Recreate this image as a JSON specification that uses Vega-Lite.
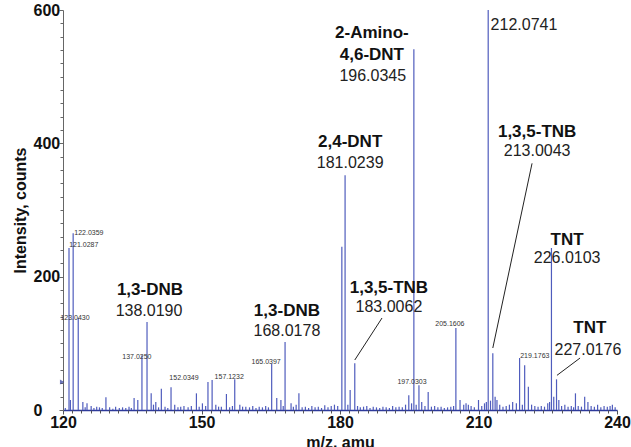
{
  "$schema": "https://vega.github.io/schema/vega-lite/v6.json",
  "width": 554,
  "height": 400,
  "autosize": {"type": "none"},
  "padding": {"left": 63, "top": 10, "right": 14, "bottom": 37},
  "background": "white",
  "config": {"font": "Liberation Sans", "view": {"stroke": null}},
  "resolve": {"axis": {"x": "independent", "y": "independent"}},
  "datasets": {
    "peaks": [
      {"mz": 121.3, "intensity": 243}, {"mz": 122.2, "intensity": 265}, {"mz": 123.3, "intensity": 138},
      {"mz": 121.6, "intensity": 15}, {"mz": 124.3, "intensity": 12}, {"mz": 125.2, "intensity": 10},
      {"mz": 127.3, "intensity": 5}, {"mz": 129.3, "intensity": 19}, {"mz": 135.4, "intensity": 18},
      {"mz": 136.2, "intensity": 15}, {"mz": 137.1, "intensity": 82}, {"mz": 138.2, "intensity": 132},
      {"mz": 139.1, "intensity": 25}, {"mz": 140.1, "intensity": 12}, {"mz": 141.3, "intensity": 32},
      {"mz": 143.4, "intensity": 34}, {"mz": 146.2, "intensity": 6}, {"mz": 148.9, "intensity": 25},
      {"mz": 150.2, "intensity": 10}, {"mz": 151.4, "intensity": 42}, {"mz": 152.3, "intensity": 45},
      {"mz": 154.3, "intensity": 5}, {"mz": 155.4, "intensity": 24}, {"mz": 157.2, "intensity": 46},
      {"mz": 158.3, "intensity": 8}, {"mz": 159.6, "intensity": 5}, {"mz": 165.2, "intensity": 69},
      {"mz": 166.3, "intensity": 18}, {"mz": 167.2, "intensity": 15}, {"mz": 168.1, "intensity": 102},
      {"mz": 169.4, "intensity": 10}, {"mz": 171.1, "intensity": 25}, {"mz": 180.4, "intensity": 245},
      {"mz": 181.1, "intensity": 352}, {"mz": 182.2, "intensity": 30}, {"mz": 183.2, "intensity": 70},
      {"mz": 185.1, "intensity": 5}, {"mz": 194.9, "intensity": 22}, {"mz": 196.0, "intensity": 541},
      {"mz": 197.1, "intensity": 37}, {"mz": 199.1, "intensity": 27}, {"mz": 205.1, "intensity": 123},
      {"mz": 206.0, "intensity": 15}, {"mz": 207.8, "intensity": 8}, {"mz": 210.0, "intensity": 15},
      {"mz": 212.1, "intensity": 600}, {"mz": 213.1, "intensity": 85}, {"mz": 214.0, "intensity": 15},
      {"mz": 218.9, "intensity": 78}, {"mz": 220.0, "intensity": 67}, {"mz": 220.8, "intensity": 35},
      {"mz": 225.8, "intensity": 243}, {"mz": 226.9, "intensity": 46}, {"mz": 231.0, "intensity": 25},
      {"mz": 233.0, "intensity": 20}, {"mz": 233.7, "intensity": 12}, {"mz": 239.0, "intensity": 8},
      {"mz": 120.5, "intensity": 3}, {"mz": 124.8, "intensity": 4}, {"mz": 126.1, "intensity": 6},
      {"mz": 126.7, "intensity": 3}, {"mz": 127.9, "intensity": 4}, {"mz": 128.5, "intensity": 3},
      {"mz": 130.1, "intensity": 4}, {"mz": 130.8, "intensity": 2}, {"mz": 131.4, "intensity": 5},
      {"mz": 132.2, "intensity": 3}, {"mz": 132.9, "intensity": 4}, {"mz": 133.6, "intensity": 3},
      {"mz": 134.3, "intensity": 5}, {"mz": 134.8, "intensity": 3}, {"mz": 139.6, "intensity": 8},
      {"mz": 140.7, "intensity": 4}, {"mz": 142.1, "intensity": 5}, {"mz": 142.7, "intensity": 3},
      {"mz": 144.2, "intensity": 8}, {"mz": 144.9, "intensity": 4}, {"mz": 145.5, "intensity": 5},
      {"mz": 147.1, "intensity": 4}, {"mz": 147.8, "intensity": 6}, {"mz": 149.5, "intensity": 5},
      {"mz": 150.9, "intensity": 6}, {"mz": 153.1, "intensity": 8}, {"mz": 153.7, "intensity": 5},
      {"mz": 156.1, "intensity": 4}, {"mz": 156.7, "intensity": 6}, {"mz": 158.9, "intensity": 5},
      {"mz": 160.4, "intensity": 4}, {"mz": 161.1, "intensity": 6}, {"mz": 161.8, "intensity": 3},
      {"mz": 162.5, "intensity": 5}, {"mz": 163.2, "intensity": 4}, {"mz": 163.9, "intensity": 6},
      {"mz": 164.5, "intensity": 4}, {"mz": 167.7, "intensity": 6}, {"mz": 169.9, "intensity": 5},
      {"mz": 170.5, "intensity": 8}, {"mz": 171.8, "intensity": 4}, {"mz": 172.5, "intensity": 5},
      {"mz": 173.2, "intensity": 3}, {"mz": 173.9, "intensity": 6}, {"mz": 174.6, "intensity": 4},
      {"mz": 175.3, "intensity": 5}, {"mz": 176.0, "intensity": 3}, {"mz": 176.7, "intensity": 7},
      {"mz": 177.4, "intensity": 4}, {"mz": 178.1, "intensity": 6}, {"mz": 178.8, "intensity": 8},
      {"mz": 179.5, "intensity": 6}, {"mz": 181.7, "intensity": 8}, {"mz": 183.8, "intensity": 6},
      {"mz": 184.4, "intensity": 4}, {"mz": 185.8, "intensity": 6}, {"mz": 186.5, "intensity": 3},
      {"mz": 187.2, "intensity": 5}, {"mz": 187.9, "intensity": 4}, {"mz": 188.6, "intensity": 3},
      {"mz": 189.3, "intensity": 5}, {"mz": 190.0, "intensity": 4}, {"mz": 190.7, "intensity": 3},
      {"mz": 191.4, "intensity": 6}, {"mz": 192.1, "intensity": 4}, {"mz": 192.8, "intensity": 5},
      {"mz": 193.5, "intensity": 4}, {"mz": 194.2, "intensity": 8}, {"mz": 195.5, "intensity": 10},
      {"mz": 196.5, "intensity": 8}, {"mz": 197.7, "intensity": 12}, {"mz": 198.4, "intensity": 6},
      {"mz": 199.8, "intensity": 5}, {"mz": 200.5, "intensity": 6}, {"mz": 201.2, "intensity": 4},
      {"mz": 201.9, "intensity": 5}, {"mz": 202.6, "intensity": 3}, {"mz": 203.3, "intensity": 4},
      {"mz": 204.0, "intensity": 5}, {"mz": 204.6, "intensity": 6}, {"mz": 206.8, "intensity": 8},
      {"mz": 207.3, "intensity": 10}, {"mz": 208.4, "intensity": 6}, {"mz": 209.1, "intensity": 4},
      {"mz": 210.7, "intensity": 6}, {"mz": 211.3, "intensity": 10}, {"mz": 211.7, "intensity": 12},
      {"mz": 212.6, "intensity": 14}, {"mz": 213.6, "intensity": 20}, {"mz": 214.6, "intensity": 8},
      {"mz": 215.3, "intensity": 5}, {"mz": 216.0, "intensity": 6}, {"mz": 216.7, "intensity": 8},
      {"mz": 217.4, "intensity": 12}, {"mz": 218.2, "intensity": 10}, {"mz": 219.5, "intensity": 8},
      {"mz": 221.5, "intensity": 8}, {"mz": 222.2, "intensity": 6}, {"mz": 222.9, "intensity": 5},
      {"mz": 223.6, "intensity": 6}, {"mz": 224.3, "intensity": 5}, {"mz": 225.0, "intensity": 10},
      {"mz": 225.4, "intensity": 12}, {"mz": 226.3, "intensity": 20}, {"mz": 227.4, "intensity": 15},
      {"mz": 228.0, "intensity": 6}, {"mz": 228.7, "intensity": 8}, {"mz": 229.4, "intensity": 5},
      {"mz": 230.1, "intensity": 6}, {"mz": 230.6, "intensity": 4}, {"mz": 231.6, "intensity": 6},
      {"mz": 232.3, "intensity": 5}, {"mz": 234.4, "intensity": 6}, {"mz": 235.1, "intensity": 5},
      {"mz": 235.8, "intensity": 8}, {"mz": 236.5, "intensity": 4}, {"mz": 237.2, "intensity": 6},
      {"mz": 237.9, "intensity": 5}, {"mz": 238.5, "intensity": 6}, {"mz": 239.6, "intensity": 4}
    ],
    "pointers": [
      {"mz": 189.1, "intensity": 138, "mz2": 183.2, "intensity2": 75},
      {"mz": 221.6, "intensity": 370, "mz2": 213.1, "intensity2": 93},
      {"mz": 232.0, "intensity": 78, "mz2": 227.0, "intensity2": 52}
    ],
    "names": [
      {"mz": 138.84, "intensity": 180, "label": "1,3-DNB"},
      {"mz": 168.5, "intensity": 148.5, "label": "1,3-DNB"},
      {"mz": 190.6, "intensity": 183, "label": "1,3,5-TNB"},
      {"mz": 182.2, "intensity": 402, "label": "2,4-DNT"},
      {"mz": 186.9, "intensity": 565.5, "label": "2-Amino-"},
      {"mz": 186.9, "intensity": 532.5, "label": "4,6-DNT"},
      {"mz": 222.7, "intensity": 417, "label": "1,3,5-TNB"},
      {"mz": 229.2, "intensity": 255, "label": "TNT"},
      {"mz": 234.1, "intensity": 123, "label": "TNT"}
    ],
    "values": [
      {"mz": 138.63, "intensity": 148.5, "label": "138.0190"},
      {"mz": 168.5, "intensity": 118.5, "label": "168.0178"},
      {"mz": 190.6, "intensity": 154.5, "label": "183.0062"},
      {"mz": 182.2, "intensity": 370.5, "label": "181.0239"},
      {"mz": 187.1, "intensity": 501, "label": "196.0345"},
      {"mz": 219.85, "intensity": 577.5, "label": "212.0741"},
      {"mz": 222.7, "intensity": 388.5, "label": "213.0043"},
      {"mz": 229.2, "intensity": 228, "label": "226.0103"},
      {"mz": 233.7, "intensity": 90, "label": "227.0176"}
    ],
    "small": [
      {"mz": 125.6, "intensity": 265.5, "label": "122.0359"},
      {"mz": 124.5, "intensity": 247.5, "label": "121.0287"},
      {"mz": 122.6, "intensity": 138, "label": "123.0430"},
      {"mz": 136.0, "intensity": 79.5, "label": "137.0250"},
      {"mz": 146.2, "intensity": 48, "label": "152.0349"},
      {"mz": 156.0, "intensity": 49.5, "label": "157.1232"},
      {"mz": 164.0, "intensity": 72, "label": "165.0397"},
      {"mz": 195.6, "intensity": 42, "label": "197.0303"},
      {"mz": 203.8, "intensity": 129, "label": "205.1606"},
      {"mz": 222.2, "intensity": 81, "label": "219.1763"}
    ],
    "marker": [{"mz": 119.8, "intensity": 42}]
  },
  "layer": [
    {
      "data": {"name": "peaks"},
      "mark": {"type": "rule", "color": "#4f5cbd", "strokeWidth": 1.2, "clip": true},
      "encoding": {
        "x": {
          "field": "mz", "type": "quantitative",
          "scale": {"domain": [120, 240], "nice": false, "zero": false},
          "axis": {
            "orient": "bottom",
            "title": "m/z, amu",
            "values": [120, 150, 180, 210, 240],
            "labelOverlap": false,
            "labelFlush": false,
            "labelFont": "Liberation Sans", "labelFontSize": 16, "labelFontWeight": "bold", "labelColor": "#111",
            "labelPadding": 0,
            "tickSize": 4, "tickColor": "#555", "domainColor": "#2e3a9a", "domainWidth": 1.5,
            "titleFont": "Liberation Sans", "titleFontSize": 16, "titleFontWeight": "bold", "titleColor": "#111",
            "titlePadding": 4,
            "grid": false
          }
        },
        "y": {
          "field": "intensity", "type": "quantitative",
          "scale": {"domain": [0, 600], "nice": false},
          "axis": {
            "orient": "left",
            "title": "Intensity, counts",
            "values": [0, 200, 400, 600],
            "labelOverlap": false,
            "labelFlush": false,
            "labelAlign": "left",
            "labelFont": "Liberation Sans", "labelFontSize": 16, "labelFontWeight": "bold", "labelColor": "#111",
            "labelPadding": 26,
            "tickSize": 4, "tickColor": "#666", "domainColor": "#666",
            "titleFont": "Liberation Sans", "titleFontSize": 16, "titleFontWeight": "bold", "titleColor": "#111",
            "titlePadding": 5,
            "grid": false
          }
        },
        "y2": {"datum": 0}
      }
    },
    {
      "data": {"name": "pointers"},
      "mark": {"type": "rule", "color": "#222", "strokeWidth": 1},
      "encoding": {
        "x": {"field": "mz", "type": "quantitative",
          "axis": {"orient": "bottom", "title": null, "labels": false, "domain": false, "grid": false, "tickSize": 3, "tickColor": "#555",
            "values": [122,124,126,128,130,132,134,136,138,140,142,144,146,148,152,154,156,158,160,162,164,166,168,170,172,174,176,178,182,184,186,188,190,192,194,196,198,200,202,204,206,208,212,214,216,218,220,222,224,226,228,230,232,234,236,238]}},
        "y": {"field": "intensity", "type": "quantitative",
          "axis": {"orient": "left", "title": null, "labels": false, "domain": false, "grid": false, "tickSize": 3, "tickColor": "#666",
            "values": [20,40,60,80,100,120,140,160,180,220,240,260,280,300,320,340,360,380,420,440,460,480,500,520,540,560,580]}},
        "x2": {"field": "mz2"},
        "y2": {"field": "intensity2"}
      }
    },
    {
      "data": {"name": "names"},
      "mark": {"type": "text", "font": "Liberation Sans", "fontSize": 17, "fontWeight": "bold", "color": "#111", "align": "center", "baseline": "middle"},
      "encoding": {
        "x": {"field": "mz", "type": "quantitative", "axis": null},
        "y": {"field": "intensity", "type": "quantitative", "axis": null},
        "text": {"field": "label"}
      }
    },
    {
      "data": {"name": "values"},
      "mark": {"type": "text", "font": "Liberation Sans", "fontSize": 16, "color": "#222", "align": "center", "baseline": "middle"},
      "encoding": {
        "x": {"field": "mz", "type": "quantitative", "axis": null},
        "y": {"field": "intensity", "type": "quantitative", "axis": null},
        "text": {"field": "label"}
      }
    },
    {
      "data": {"name": "small"},
      "mark": {"type": "text", "font": "Liberation Sans", "fontSize": 7, "color": "#333", "align": "center", "baseline": "middle"},
      "encoding": {
        "x": {"field": "mz", "type": "quantitative", "axis": null},
        "y": {"field": "intensity", "type": "quantitative", "axis": null},
        "text": {"field": "label"}
      }
    },
    {
      "data": {"name": "marker"},
      "mark": {"type": "point", "shape": "triangle-right", "filled": true, "color": "#2e3a9a", "size": 25, "clip": false},
      "encoding": {
        "x": {"field": "mz", "type": "quantitative", "axis": null},
        "y": {"field": "intensity", "type": "quantitative", "axis": null}
      }
    }
  ]
}
